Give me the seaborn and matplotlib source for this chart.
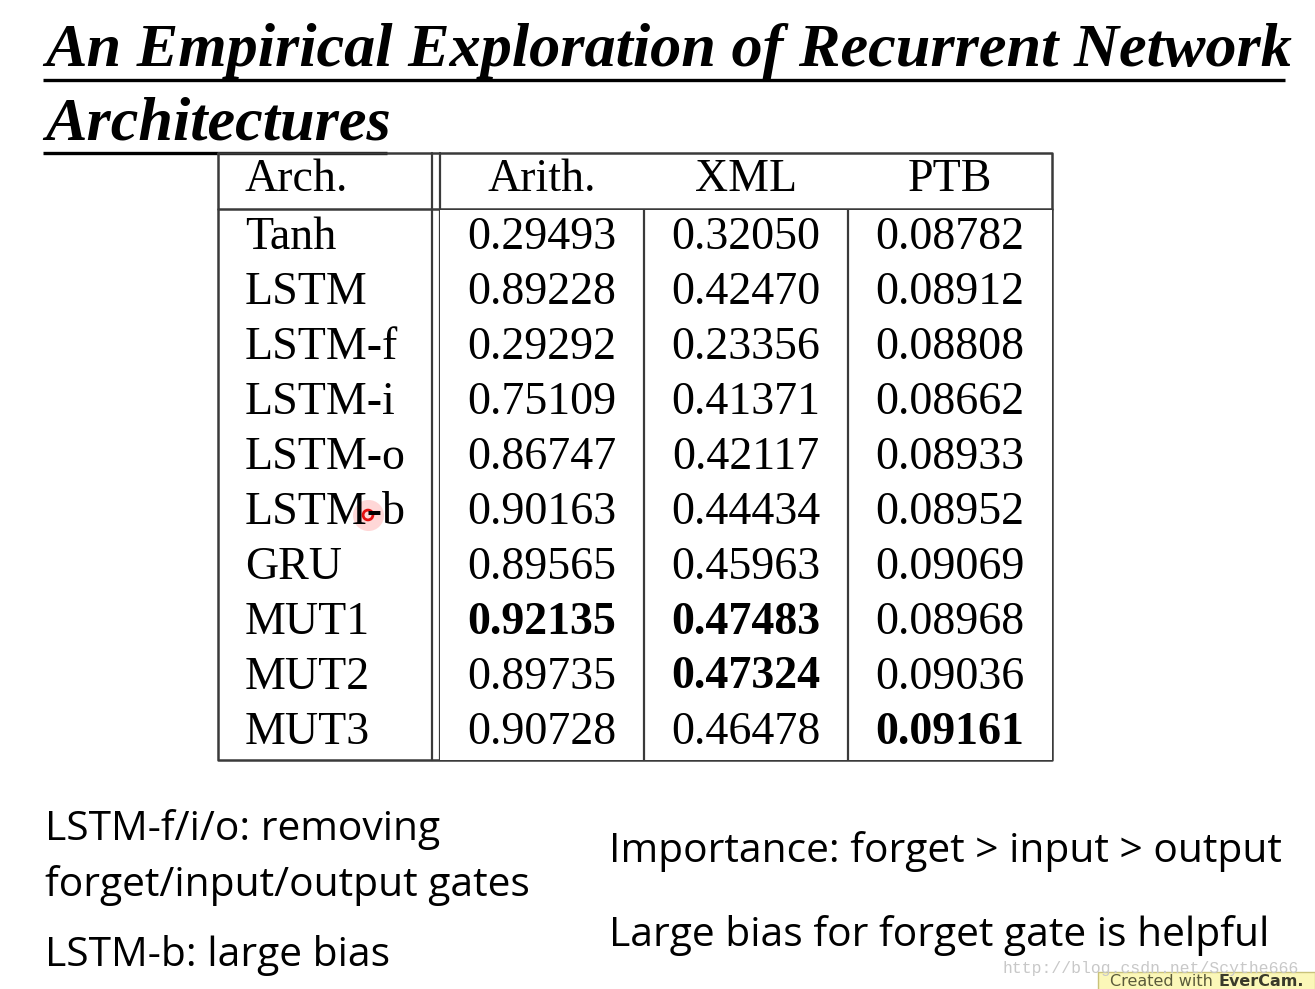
"""Slide: An Empirical Exploration of Recurrent Network Architectures (table)."""

import matplotlib.pyplot as plt
import pandas as pd
import seaborn as sns
from matplotlib.colors import ListedColormap
from matplotlib.transforms import blended_transform_factory

archs = ["Tanh", "LSTM", "LSTM-f", "LSTM-i", "LSTM-o", "LSTM-b",
         "GRU", "MUT1", "MUT2", "MUT3"]
tasks = ["Arith.", "XML", "PTB"]
arith = [0.29493, 0.89228, 0.29292, 0.75109, 0.86747, 0.90163,
         0.89565, 0.92135, 0.89735, 0.90728]
xml = [0.32050, 0.42470, 0.23356, 0.41371, 0.42117, 0.44434,
       0.45963, 0.47483, 0.47324, 0.46478]
ptb = [0.08782, 0.08912, 0.08808, 0.08662, 0.08933, 0.08952,
       0.09069, 0.08968, 0.09036, 0.09161]
# entries set in bold on the slide (row, column)
bold_cells = [(7, 0), (7, 1), (8, 1), (9, 2)]

title_lines = ["An Empirical Exploration of Recurrent Network", "Architectures"]
notes_left = ["LSTM-f/i/o: removing", "forget/input/output gates", "LSTM-b: large bias"]
notes_right = ["Importance: forget > input > output",
               "Large bias for forget gate is helpful"]

W, H = 1315, 989
SERIF = "Liberation Serif"
SANS = "Open Sans"
LINE = "#3a3a3a"


def main() -> None:
    sns.set_theme(style="white")
    fig = plt.figure(figsize=(W / 100, H / 100), dpi=100)
    fig.patch.set_facecolor("white")

    # overlay in pixel coordinates for slide decoration
    ax0 = fig.add_axes([0, 0, 1, 1])
    ax0.set_xlim(0, W)
    ax0.set_ylim(H, 0)
    ax0.axis("off")

    # title
    for text, yb in zip(title_lines, [66, 139]):
        ax0.text(45, yb, text, family=SERIF, style="italic", weight="bold",
                 fontsize=44.8, va="baseline", ha="left", color="black")
    ax0.plot([43, 1285], [80, 80], color="black", lw=2.4, solid_capstyle="butt")
    ax0.plot([43, 387], [153, 153], color="black", lw=2.4, solid_capstyle="butt")

    # numeric cells as a white heatmap with annotations
    left, right, top, bottom = 440, 1052, 210, 760
    axh = fig.add_axes([left / W, 1 - bottom / H, (right - left) / W, (bottom - top) / H])
    df = pd.DataFrame({"Arith.": arith, "XML": xml, "PTB": ptb}, index=archs)
    sns.heatmap(df, ax=axh, cmap=ListedColormap(["white"]), cbar=False,
                annot=True, fmt=".5f", xticklabels=False, yticklabels=False,
                annot_kws=dict(family=SERIF, fontsize=33, color="black"))
    for k, t in enumerate(axh.texts):
        r, c = divmod(k, len(tasks))
        if (r, c) in bold_cells:
            t.set_weight("bold")
    for spine in axh.spines.values():
        spine.set_visible(False)
    for j in range(1, len(tasks)):
        axh.axvline(j, color=LINE, lw=1.6)

    # arch names and headers
    tr_rows = blended_transform_factory(ax0.transData, axh.transData)
    for i, name in enumerate(archs):
        ax0.text(245, i + 0.5, name, transform=tr_rows, family=SERIF,
                 fontsize=33, ha="left", va="center", color="black")
    tr_cols = blended_transform_factory(axh.transData, ax0.transData)
    for j, name in enumerate(tasks):
        ax0.text(j + 0.5, 180, name, transform=tr_cols, family=SERIF,
                 fontsize=33, ha="center", va="center", color="black")
    ax0.text(245, 180, "Arch.", family=SERIF, fontsize=33,
             ha="left", va="center", color="black")

    # table frame
    ax0.plot([218, 1052, 1052, 218, 218], [153, 153, 760, 760, 153],
             color=LINE, lw=1.8)
    ax0.plot([218, 1052], [209, 209], color=LINE, lw=1.8)
    ax0.plot([432, 432], [153, 760], color=LINE, lw=1.6)
    ax0.plot([440, 440], [153, 760], color=LINE, lw=1.6)

    # notes
    for text, yc in zip(notes_left, [829, 885, 956]):
        ax0.text(45, yc, text, family=SANS, fontsize=29.3, ha="left",
                 va="center", color="black")
    for text, yc in zip(notes_right, [852, 936]):
        ax0.text(609, yc, text, family=SANS, fontsize=29.3, ha="left",
                 va="center", color="black")

    # cursor mark and watermarks
    ax0.scatter([368], [515], s=500, color="#ff6060", alpha=0.25, lw=0)
    ax0.scatter([368], [515], s=50, facecolor="none", edgecolor="#e41010", lw=2)
    ax0.text(1003, 968, "http://blog.csdn.net/Scythe666", family="Liberation Mono",
             fontsize=11.8, color="#c8c8c8", ha="left", va="center")
    ax0.add_patch(plt.Rectangle((1098, 972), 217, 20, facecolor="#fbf7b8",
                                edgecolor="#c9c27a", lw=1))
    ax0.text(1110, 982, "Created with", family="DejaVu Sans", fontsize=11.5,
             color="#5a5a3a", ha="left", va="center")
    ax0.text(1219, 982, "EverCam.", family="DejaVu Sans", fontsize=11.5,
             weight="bold", color="#3a3a2a", ha="left", va="center")

    fig.savefig("out.png", dpi=100, facecolor="white")


if __name__ == "__main__":
    main()
